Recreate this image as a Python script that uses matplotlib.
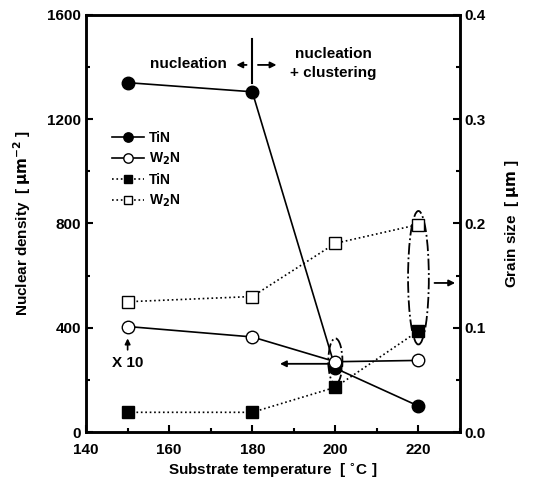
import matplotlib
matplotlib.use('Agg')
import matplotlib.pyplot as plt
from matplotlib.patches import Ellipse
from matplotlib.ticker import MultipleLocator, FormatStrFormatter

plt.rcParams['font.family'] = ['Liberation Sans', 'DejaVu Sans']
plt.rcParams['font.weight'] = 'bold'

# data
temps = [150, 180, 200, 220]
tin_density = [1340, 1305, 245, 100]
w2n_density = [405, 365, 270, 275]
tin_grain = [0.019, 0.019, 0.043, 0.097]
w2n_grain = [0.125, 0.130, 0.181, 0.199]

fig = plt.figure(figsize=(5.38, 4.95), dpi=100)
ax = fig.add_axes([0.16, 0.127, 0.695, 0.843])
ax2 = ax.twinx()

l1, = ax.plot(temps, tin_density, '-', color='black', lw=1.2, marker='o',
              ms=9, mfc='black', mec='black', label='TiN')
l2, = ax.plot(temps, w2n_density, '-', color='black', lw=1.2, marker='o',
              ms=9, mfc='white', mec='black', label='W$_2$N')
l3, = ax2.plot(temps, tin_grain, ':', color='black', lw=1.2, marker='s',
               ms=8, mfc='black', mec='black', label='TiN')
l4, = ax2.plot(temps, w2n_grain, ':', color='black', lw=1.2, marker='s',
               ms=8, mfc='white', mec='black', label='W$_2$N')

ax.set_xlim(140, 230)
ax.set_ylim(0, 1600)
ax2.set_ylim(0, 0.4)

ax.xaxis.set_major_locator(MultipleLocator(20))
ax.xaxis.set_minor_locator(MultipleLocator(10))
ax.yaxis.set_major_locator(MultipleLocator(400))
ax.yaxis.set_minor_locator(MultipleLocator(200))
ax2.yaxis.set_major_locator(MultipleLocator(0.1))
ax2.yaxis.set_minor_locator(MultipleLocator(0.05))
ax2.yaxis.set_major_formatter(FormatStrFormatter('%.1f'))

for a in (ax, ax2):
    a.tick_params(which='both', direction='in', width=1.5, labelsize=11)
    a.tick_params(which='major', length=5)
    a.tick_params(which='minor', length=3)
    for s in a.spines.values():
        s.set_linewidth(1.8)
ax.tick_params(axis='x', pad=8)

ax.set_xlabel(r'Substrate temperature  [ $^{\circ}$C ]', fontsize=11, fontweight='bold', labelpad=3)
ax.set_ylabel(r'Nuclear density  [ $\mathbf{\mu m^{-2}}$ ]', fontsize=11, fontweight='bold', labelpad=10)
ax2.set_ylabel(r'Grain size  [ $\mathbf{\mu m}$ ]', fontsize=11, fontweight='bold', labelpad=12)

leg = ax.legend(handles=[l1, l2, l3, l4], loc='upper left', bbox_to_anchor=(0.055, 0.735),
                frameon=False, fontsize=10, handlelength=2.3, labelspacing=0.42,
                borderaxespad=0, handletextpad=0.35, markerscale=0.75)

# regime annotation
ax.plot([180, 180], [1508, 1338], color='black', lw=1.5)
ax.annotate('', xy=(175.5, 1408), xytext=(179.3, 1408),
            arrowprops=dict(arrowstyle='-|>', color='black', lw=1.3, mutation_scale=9))
ax.annotate('', xy=(186.5, 1408), xytext=(180.7, 1408),
            arrowprops=dict(arrowstyle='-|>', color='black', lw=1.3, mutation_scale=9))
ax.text(174, 1410, 'nucleation', ha='right', va='center', fontsize=11, fontweight='bold')
ax.text(199.5, 1412, 'nucleation\n+ clustering', ha='center', va='center',
        fontsize=11, fontweight='bold', linespacing=1.45)

# x10 note
ax.annotate('', xy=(150, 370), xytext=(150, 305),
            arrowprops=dict(arrowstyle='-|>', color='black', lw=1.2, mutation_scale=8))
ax.text(150, 265, 'X 10', ha='center', va='center', fontsize=11, fontweight='bold')

# ellipses marking groups
ax.add_patch(Ellipse((200, 272), 3.4, 175, fill=False, ls='-.', lw=1.3, color='black'))
ax2.add_patch(Ellipse((220, 0.148), 5.0, 0.128, fill=False, ls='-.', lw=1.3, color='black'))
ax.annotate('', xy=(186, 262), xytext=(199, 262),
            arrowprops=dict(arrowstyle='-|>', color='black', lw=1.3, mutation_scale=9))
ax2.annotate('', xy=(229.5, 0.143), xytext=(223.2, 0.143),
             arrowprops=dict(arrowstyle='-|>', color='black', lw=1.3, mutation_scale=9))

fig.savefig('out.png', dpi=100)
